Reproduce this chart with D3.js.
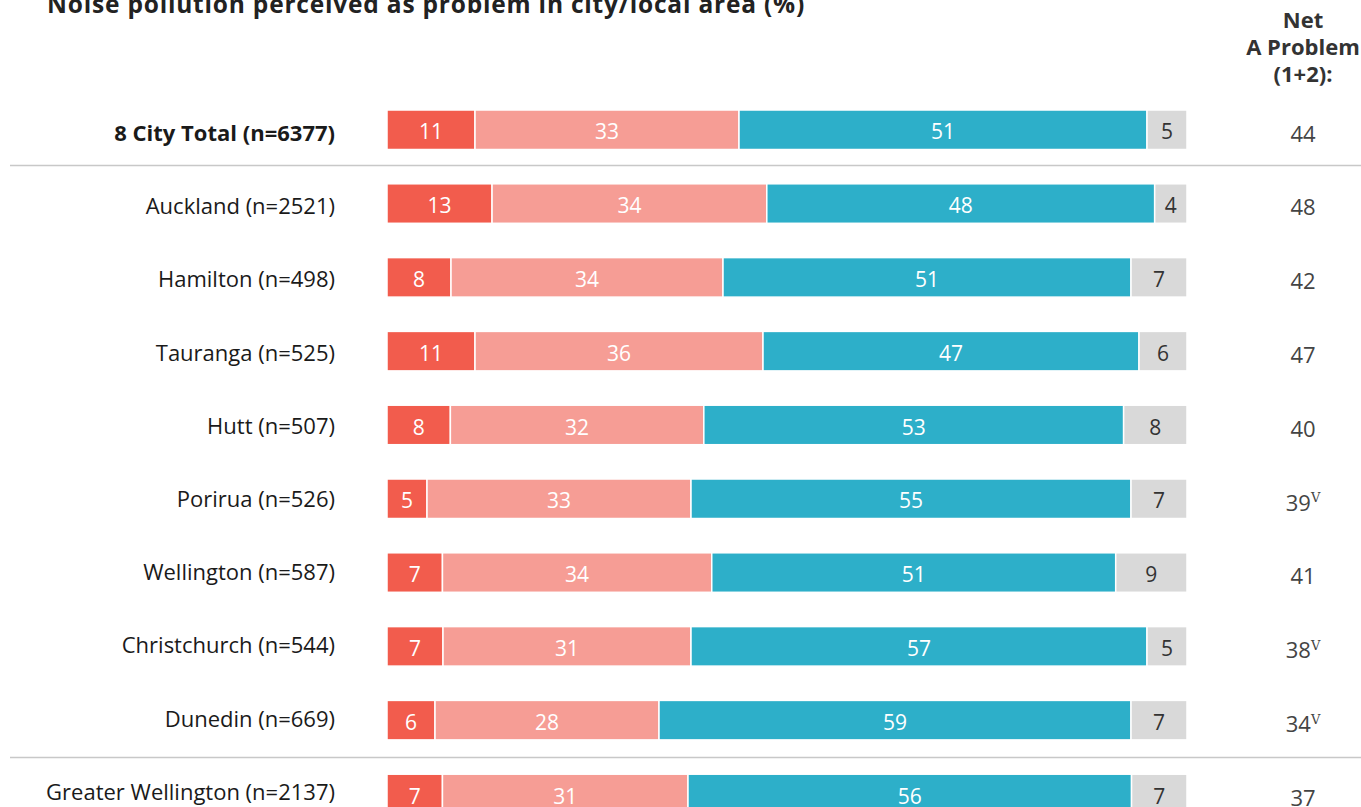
<!DOCTYPE html>
<html>
<head>
<meta charset="utf-8">
<script src="https://cdn.jsdelivr.net/npm/d3@7"></script>
<style>
  html, body { margin: 0; padding: 0; background: #fff; }
  svg { display: block; }
  text { font-family: "Open Sans", Lato, sans-serif; }
</style>
</head>
<body>
<div id="chart"></div>
<script>
// Survey groups, top to bottom
const categories = [
  "8 City Total (n=6377)",
  "Auckland (n=2521)",
  "Hamilton (n=498)",
  "Tauranga (n=525)",
  "Hutt (n=507)",
  "Porirua (n=526)",
  "Wellington (n=587)",
  "Christchurch (n=544)",
  "Dunedin (n=669)",
  "Greater Wellington (n=2137)"
];

// Response shares (%) per group
const bigProblem   = [11, 13, 8, 11, 8, 5, 7, 7, 6, 7];
const aProblem     = [33, 34, 34, 36, 32, 33, 34, 31, 28, 31];
const notProblem   = [51, 48, 51, 47, 53, 55, 51, 57, 59, 56];
const dontKnow     = [5, 4, 7, 6, 8, 7, 9, 5, 7, 7];

// Net "a problem" (1+2) and whether it is significantly lower than the total
const netProblem   = [44, 48, 42, 47, 40, 39, 41, 38, 34, 37];
const sigLower     = [false, false, false, false, false, true, false, true, true, false];

const seriesKeys   = ["big", "some", "not", "dk"];
const seriesColors = ["#F25C4D", "#F69D95", "#2DAFC9", "#D9D9D9"];
const labelColors  = ["#ffffff", "#ffffff", "#ffffff", "#333333"];

const title = "Noise pollution perceived as problem in city/local area (%)";
const netHeader = ["Net", "A Problem", "(1+2):"];

const W = 1361, H = 807;
const rows = categories.map((c, i) => ({
  cat: c, big: bigProblem[i], some: aProblem[i], not: notProblem[i], dk: dontKnow[i]
}));

const svg = d3.select("#chart").append("svg").attr("width", W).attr("height", H);

// horizontal: each row expanded to the full 0–100% width
const x = d3.scaleLinear().domain([0, 1]).range([387, 1187]);
// vertical: one band per group
const step = 73.8, barH = 39.5, firstTop = 110;
const y = d3.scaleBand().domain(categories)
  .range([firstTop, firstTop + step * (categories.length - 1) + barH])
  .paddingInner(1 - barH / step).paddingOuter(0).align(0);
// category labels sit on a slightly tighter grid
const yLabel = d3.scalePoint().domain(categories).range([133, 792]);

const stack = d3.stack().keys(seriesKeys).offset(d3.stackOffsetExpand);
const stacked = stack(rows);

// title
svg.append("text")
  .attr("x", 47).attr("y", 13)
  .attr("font-size", 24.5).attr("font-weight", 700).attr("letter-spacing", 0.8)
  .attr("fill", "#222")
  .text(title);

// net header
svg.append("g").selectAll("text").data(netHeader).join("text")
  .attr("x", 1303).attr("y", (d, i) => 27.5 + i * 27)
  .attr("text-anchor", "middle").attr("font-size", 22).attr("font-weight", 700).attr("fill", "#333")
  .text(d => d);

// separators
svg.append("g").selectAll("line").data([165.5, 757.5]).join("line")
  .attr("x1", 10).attr("x2", W).attr("y1", d => d).attr("y2", d => d)
  .attr("stroke", "#c8c8c8").attr("stroke-width", 1.5);

// category labels
svg.append("g").selectAll("text").data(categories).join("text")
  .attr("x", 335).attr("y", d => yLabel(d))
  .attr("dy", "0.36em").attr("text-anchor", "end")
  .attr("font-size", 22).attr("font-weight", (d, i) => i === 0 ? 700 : 400)
  .attr("fill", "#1a1a1a")
  .text(d => d);

// stacked bars
const layers = svg.append("g").selectAll("g").data(stacked).join("g")
  .attr("fill", (d, i) => seriesColors[i]);

layers.selectAll("rect").data(d => d).join("rect")
  .attr("x", d => x(d[0]))
  .attr("width", d => x(d[1]) - x(d[0]))
  .attr("y", d => y(d.data.cat))
  .attr("height", y.bandwidth())
  .attr("stroke", "#fff").attr("stroke-width", 1.5);

// segment labels
stacked.forEach((layer, li) => {
  svg.append("g").selectAll("text").data(layer).join("text")
    .attr("x", d => (x(d[0]) + x(d[1])) / 2)
    .attr("y", d => y(d.data.cat) + y.bandwidth() / 2 + 2)
    .attr("dy", "0.36em").attr("text-anchor", "middle")
    .attr("font-size", 21).attr("fill", labelColors[li])
    .text(d => d.data[seriesKeys[li]]);
});

// net values with significance marker
const net = svg.append("g").selectAll("text").data(netProblem).join("text")
  .attr("x", 1303).attr("y", (d, i) => y(categories[i]) + y.bandwidth() / 2 + 4)
  .attr("dy", "0.36em").attr("text-anchor", "middle")
  .attr("font-size", 22).attr("fill", "#444");
net.append("tspan").text(d => d);
net.append("tspan")
  .attr("font-size", 13).attr("dy", "-0.65em")
  .attr("font-family", "'DejaVu Serif', serif")
  .text((d, i) => sigLower[i] ? "V" : "");
</script>
</body>
</html>
